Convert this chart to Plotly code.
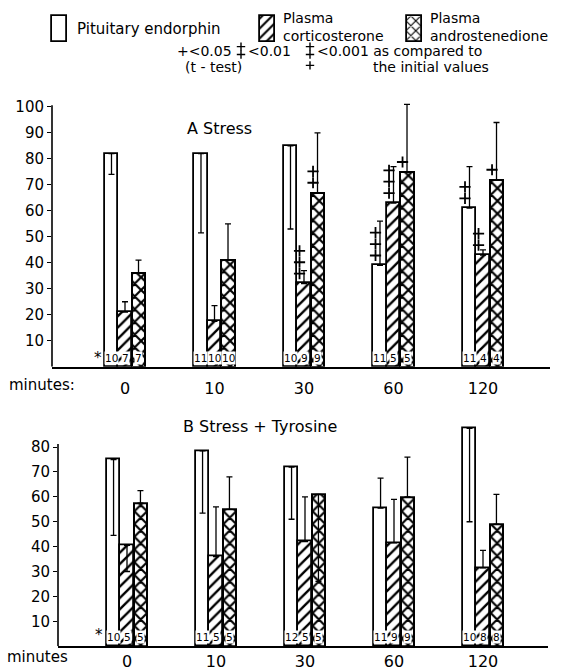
import plotly.graph_objects as go

W, H = 586, 671

minutes = ["0", "10", "30", "60", "120"]

# ---- Panel A: Stress ----
a_pit = [82, 82, 85, 39, 61]
a_pit_up = [0, 0, 0, 17, 16]
a_pit_dn = [8, 30.5, 32, 0, 0]
a_cort = [21, 17.5, 32, 63, 43]
a_cort_up = [4, 6, 5, 14, 2]
a_cort_dn = [0, 0, 0, 0, 0]
a_andro = [36, 41, 67, 75, 72]
a_andro_up = [5, 14, 23, 26, 22]
a_andro_dn = [0, 0, 0, 0, 0]
a_n_pit = [10, 11, 10, 11, 11]
a_n_cort = [7, 10, 9, 5, 4]
a_n_andro = [7, 10, 9, 5, 4]
a_sig_pit = [0, 0, 0, 3, 2]
a_sig_cort = [0, 0, 3, 3, 2]
a_sig_andro = [0, 0, 2, 1, 1]

# ---- Panel B: Stress + Tyrosine ----
b_pit = [75, 78.5, 72, 55.5, 87.5]
b_pit_up = [0, 0, 0, 12, 0]
b_pit_dn = [30.5, 25, 21, 0, 37.5]
b_cort = [40.5, 36, 42, 41.5, 31.5]
b_cort_up = [0, 20, 18, 17.5, 7]
b_cort_dn = [10.5, 0, 0, 0, 0]
b_andro = [57.5, 55, 61, 60, 49]
b_andro_up = [5, 13, 0, 16, 12]
b_andro_dn = [0, 0, 35, 0, 0]
b_n_pit = [10, 11, 12, 11, 10]
b_n_cort = [5, 5, 5, 9, 8]
b_n_andro = [5, 5, 5, 9, 8]

# significance key: number of stacked plus signs for each level
sig_levels = ["<0.05", "<0.01", "<0.001 as compared to"]
sig_counts = [1, 2, 3]

series_names = ["Pituitary endorphin", "Plasma<br>corticosterone", "Plasma<br>androstenedione"]
patterns = ["", "/", "x"]
pat_size = [8, 8, 9]
pat_solid = [0.2, 0.3, 0.42]

FONT = "DejaVu Sans"
BW = 0.151
offsets = [-1.5 * BW, -0.5 * BW, 0.5 * BW]
centers = [o + BW / 2 for o in offsets]
xs = list(range(len(minutes)))


def px(x):
    return x / W


def py(y):
    return 1 - y / H


fig = go.Figure()


def add_panel(vals, ups, dns, xa, ya):
    for s in range(3):
        fig.add_trace(go.Bar(
            x=xs, y=vals[s], width=BW, offset=offsets[s],
            xaxis=xa, yaxis=ya, showlegend=False, name=series_names[s],
            marker=dict(color="white", line=dict(color="black", width=2 if s == 2 else 1.8),
                        pattern=dict(shape=patterns[s], fgcolor="black", bgcolor="white",
                                     fgopacity=1, size=pat_size[s], solidity=pat_solid[s])),
            error_y=dict(type="data", symmetric=False, array=ups[s], arrayminus=dns[s],
                         color="black", thickness=1.3, width=3),
        ))


add_panel([a_pit, a_cort, a_andro], [a_pit_up, a_cort_up, a_andro_up],
          [a_pit_dn, a_cort_dn, a_andro_dn], "x", "y")
add_panel([b_pit, b_cort, b_andro], [b_pit_up, b_cort_up, b_andro_up],
          [b_pit_dn, b_cort_dn, b_andro_dn], "x2", "y2")

# significance markers (panel A): stacked plus signs beside the bar tops
sx, sy = [], []
for s, (vals, sig) in enumerate([(a_pit, a_sig_pit), (a_cort, a_sig_cort), (a_andro, a_sig_andro)]):
    for i in xs:
        for k in range(sig[i]):
            sx.append(i + centers[s] - 0.05)
            sy.append(vals[i] + 3.8 + 4.4 * k)
fig.add_trace(go.Scatter(x=sx, y=sy, mode="markers",
                         marker=dict(symbol="cross-thin", size=8, color="black",
                                     line=dict(color="black", width=1.8)),
                         xaxis="x", yaxis="y", showlegend=False, cliponaxis=False))

# header subplot (pixel coordinates): legend swatches and key plus signs
fig.add_trace(go.Bar(x=[59.5, 267.5, 414.5], y=[-26, -26, -26], base=[41, 41, 41], width=15,
                     xaxis="x3", yaxis="y3", showlegend=False,
                     marker=dict(color="white", line=dict(color="black", width=1.8),
                                 pattern=dict(shape=patterns, fgcolor="black", bgcolor="white",
                                              fgopacity=1, size=7, solidity=0.3))))
key_x = [None, 241, 310]
kx, ky = [], []
for lvl, cnt in enumerate(sig_counts):
    if lvl == 0:
        continue
    for k in range(cnt):
        kx.append(key_x[lvl])
        ky.append(46 + 8 * k if k < 2 else 65)
fig.add_trace(go.Scatter(x=kx, y=ky, mode="markers", xaxis="x3", yaxis="y3",
                         showlegend=False, cliponaxis=False,
                         marker=dict(symbol="cross-thin", size=6, color="black",
                                     line=dict(color="black", width=1.4))))

annotations = []
# n labels at bar bases
for xa, ya, ns in [("x", "y", [a_n_pit, a_n_cort, a_n_andro]),
                   ("x2", "y2", [b_n_pit, b_n_cort, b_n_andro])]:
    for s in range(3):
        for i in xs:
            annotations.append(dict(x=i + centers[s], y=0, xref=xa, yref=ya, text=str(ns[s][i]),
                                    showarrow=False, yanchor="bottom", yshift=2,
                                    font=dict(size=10.5, family=FONT, color="black"),
                                    bgcolor="white", borderpad=0))

annotations.append(dict(x=-0.30, y=3.5, xref="x", yref="y", text="*", showarrow=False,
                        font=dict(size=15, family=FONT, color="black")))
annotations.append(dict(x=-0.31, y=4.5, xref="x2", yref="y2", text="*", showarrow=False,
                        font=dict(size=15, family=FONT, color="black")))


def txt(x, y, t, size=15, anchor="left", yanchor="middle"):
    annotations.append(dict(x=px(x), y=py(y), xref="paper", yref="paper", text=t,
                            showarrow=False, xanchor=anchor, yanchor=yanchor, align="left",
                            font=dict(size=size, family=FONT, color="black"), borderpad=0))


# legend labels
txt(76, 28, series_names[0])
txt(282, 26, series_names[1], 14)
txt(429, 26, series_names[2], 14)

# significance note
txt(176, 50, "+" + sig_levels[0], 14)
txt(247, 50, sig_levels[1], 14)
txt(316, 50, sig_levels[2], 14)
txt(184, 67, "(t - test)", 14)
txt(372, 67, "the initial values", 14)

txt(186, 129, "A Stress", 16)
txt(182, 429, "B Stress + Tyrosine", 16)
txt(8, 387, "minutes:", 15)
txt(6, 662, "minutes", 15)

shapes = [
    dict(type="line", xref="x domain", yref="y", x0=0, x1=0, y0=0, y1=100.6,
         line=dict(color="black", width=1.6)),
    dict(type="line", xref="x2 domain", yref="y2", x0=0, x1=0, y0=0, y1=81.2,
         line=dict(color="black", width=1.6)),
]

fig.update_layout(
    width=W, height=H, margin=dict(l=0, r=0, t=0, b=0),
    paper_bgcolor="white", plot_bgcolor="white",
    font=dict(family=FONT, color="black"),
    annotations=annotations, shapes=shapes,
    bargap=0,
    xaxis=dict(domain=[px(52), px(550)], range=[(52 - 125) / 89.5, (550 - 125) / 89.5],
               tickvals=xs, ticktext=minutes, showgrid=False, zeroline=False,
               showline=True, linecolor="black", linewidth=1.6,
               ticks="outside", ticklen=6, tickcolor="rgba(0,0,0,0)",
               tickfont=dict(size=16, family=FONT), anchor="y"),
    yaxis=dict(domain=[py(369), py(99)], range=[0, 103], tickvals=list(range(10, 101, 10)),
               showgrid=False, zeroline=False, showline=False,
               ticks="outside", ticklen=4, tickcolor="black", tickwidth=1.3,
               tickfont=dict(size=15, family=FONT), anchor="x"),
    xaxis2=dict(domain=[px(58), px(548)], range=[(58 - 127) / 89, (548 - 127) / 89],
                tickvals=xs, ticktext=minutes, showgrid=False, zeroline=False,
                showline=True, linecolor="black", linewidth=1.6,
                ticks="outside", ticklen=0, tickcolor="rgba(0,0,0,0)",
                tickfont=dict(size=16, family=FONT), anchor="y2"),
    yaxis2=dict(domain=[py(651), py(425)], range=[0, 90], tickvals=list(range(10, 81, 10)),
                showgrid=False, zeroline=False, showline=False,
                ticks="outside", ticklen=4, tickcolor="black", tickwidth=1.3,
                tickfont=dict(size=15, family=FONT), anchor="x2"),
    xaxis3=dict(domain=[0, 1], range=[0, W], visible=False, anchor="y3"),
    yaxis3=dict(domain=[py(75), 1], range=[75, 0], visible=False, anchor="x3"),
)

fig.write_html("out.html")
